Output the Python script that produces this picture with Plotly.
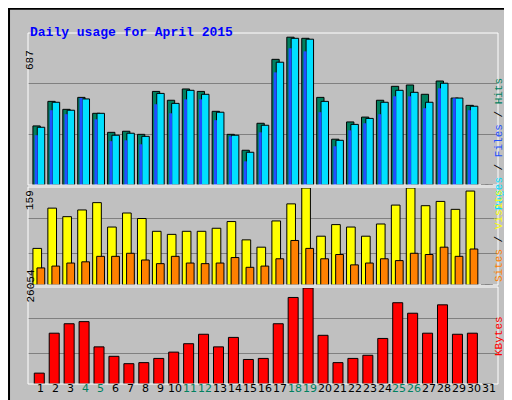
import plotly.graph_objects as go

days = list(range(1, 32))
hits = [267, 378, 342, 396, 324, 238, 243, 229, 423, 383, 434, 423, 333, 229, 157, 279,
        568, 668, 663, 396, 207, 285, 307, 383, 446, 452, 410, 470, 393, 360, 0]
files = [261, 374, 338, 389, 324, 225, 234, 220, 414, 369, 428, 410, 329, 225, 148, 270,
         555, 663, 659, 378, 202, 274, 301, 374, 428, 419, 374, 460, 393, 356, 0]
pages = [225, 338, 320, 393, 297, 198, 202, 184, 365, 324, 387, 387, 293, 220, 107, 238,
         509, 618, 604, 329, 175, 247, 279, 320, 401, 401, 347, 437, 392, 338, 0]
visits = [60, 126, 112, 123, 135, 95, 118, 109, 88, 83, 88, 88, 93, 104, 74, 62,
          105, 133, 159, 80, 99, 95, 80, 100, 131, 159, 130, 137, 124, 154, 0]
sites = [28, 31, 36, 38, 47, 47, 52, 41, 35, 47, 36, 35, 36, 45, 29, 31,
         43, 73, 60, 43, 50, 33, 36, 43, 40, 52, 50, 62, 47, 59, 0]
kbytes = [2948, 13787, 16355, 16925, 10079, 7512, 5515, 5800, 6941, 8653, 10935, 13502,
          10079, 12647, 6656, 6941, 16355, 23487, 26054, 13217, 5800, 6941, 7797, 12361,
          22060, 19208, 13787, 21490, 13502, 13787, 0]
weekend = [4, 5, 11, 12, 18, 19, 25, 26]

line = dict(color="black", width=1)
fig = go.Figure()
fig.add_trace(go.Bar(x=days, y=hits, offset=-0.54, width=0.49, marker=dict(color="#00805f", line=line), yaxis="y"))
fig.add_trace(go.Bar(x=days, y=files, offset=-0.25, width=0.5, marker=dict(color="#00e0ff", line=line), yaxis="y"))
fig.add_trace(go.Bar(x=days, y=pages, offset=-0.42, width=0.2, marker=dict(color="#2050ff", line=dict(width=0)), yaxis="y"))
fig.add_trace(go.Bar(x=days, y=visits, offset=-0.54, width=0.58, marker=dict(color="#ffff00", line=line), xaxis="x2", yaxis="y2"))
fig.add_trace(go.Bar(x=days, y=sites, offset=-0.27, width=0.52, marker=dict(color="#ff8000", line=line), xaxis="x2", yaxis="y2"))
fig.add_trace(go.Bar(x=days, y=kbytes, offset=-0.45, width=0.67, marker=dict(color="#ff0000", line=line), xaxis="x3", yaxis="y3"))

xr = [0.13, 31.6]
xdom = [20 / 512, 490 / 512]
ax = dict(range=xr, domain=xdom, showticklabels=False, showgrid=False, zeroline=False,
          fixedrange=True, automargin=False)
grid = dict(showgrid=True, gridcolor="#808080", gridwidth=1, showticklabels=False, zeroline=False,
            ticks="", automargin=False, fixedrange=True)
fig.update_layout(
    width=512, height=400, margin=dict(l=0, r=0, t=0, b=0, autoexpand=False),
    paper_bgcolor="#c0c0c0", plot_bgcolor="#c0c0c0",
    barmode="overlay", showlegend=False,
    xaxis=dict(ax, anchor="y"),
    xaxis2=dict(ax, anchor="y2"),
    xaxis3=dict(ax, anchor="y3"),
    yaxis=dict(grid, domain=[1 - 177 / 400, 1 - 25 / 400], range=[0, 687], tickvals=[229, 458]),
    yaxis2=dict(grid, domain=[1 - 277 / 400, 1 - 180 / 400], range=[0, 159], tickvals=[52, 109]),
    yaxis3=dict(grid, domain=[1 - 376 / 400, 1 - 280 / 400], range=[0, 26054], tickvals=[8368, 17781]),
)

# day labels under the bottom panel
for d in days:
    fig.add_annotation(x=d, xref="x3", y=1 - 389 / 400, yref="paper", text=str(d), showarrow=False,
                       font=dict(family="DejaVu Sans", size=11,
                                 color="#00805f" if d in weekend else "black"))

mono = "Liberation Mono"
ann = [
    dict(x=20 / 512, y=1 - 15 / 400, text="<b>Daily usage for April 2015</b>", xanchor="left",
         font=dict(family=mono, size=13, color="#0000ff")),
    dict(x=14 / 512, y=1 - 40 / 400, text="687", textangle=-90),
    dict(x=14 / 512, y=1 - 192 / 400, text="159", textangle=-90),
    dict(x=14 / 512, y=1 - 297 / 400, text="26054", textangle=-90),
    dict(x=499 / 512, y=1 - 68 / 400, textangle=-90,
         text='<span style="color:#00e0ff">Pages</span> / <span style="color:#2050ff">Files</span> / <span style="color:#00805f">Hits</span>'),
    dict(x=499 / 512, y=1 - 228 / 400, textangle=-90,
         text='<span style="color:#ff8000">Sites</span> / <span style="color:#ffff00">Visits</span>'),
    dict(x=499 / 512, y=1 - 350 / 400, textangle=-90, text='<span style="color:#ff0000">KBytes</span>'),
]
for a in ann:
    a.setdefault("font", dict(family=mono, size=11, color="black"))
    fig.add_annotation(xref="paper", yref="paper", showarrow=False, **a)

# panel frames
for y0, y1 in [(25, 177), (179, 277), (279, 376)]:
    fig.add_shape(type="rect", xref="paper", yref="paper", x0=xdom[0], x1=xdom[1],
                  y0=1 - y1 / 400, y1=1 - y0 / 400, line=dict(color="white", width=1))
fig.add_shape(type="rect", xref="paper", yref="paper", x0=0.002, x1=0.998, y0=0.002, y1=0.998,
              line=dict(color="black", width=2))

fig.write_html("out.html", config={"displayModeBar": False})
